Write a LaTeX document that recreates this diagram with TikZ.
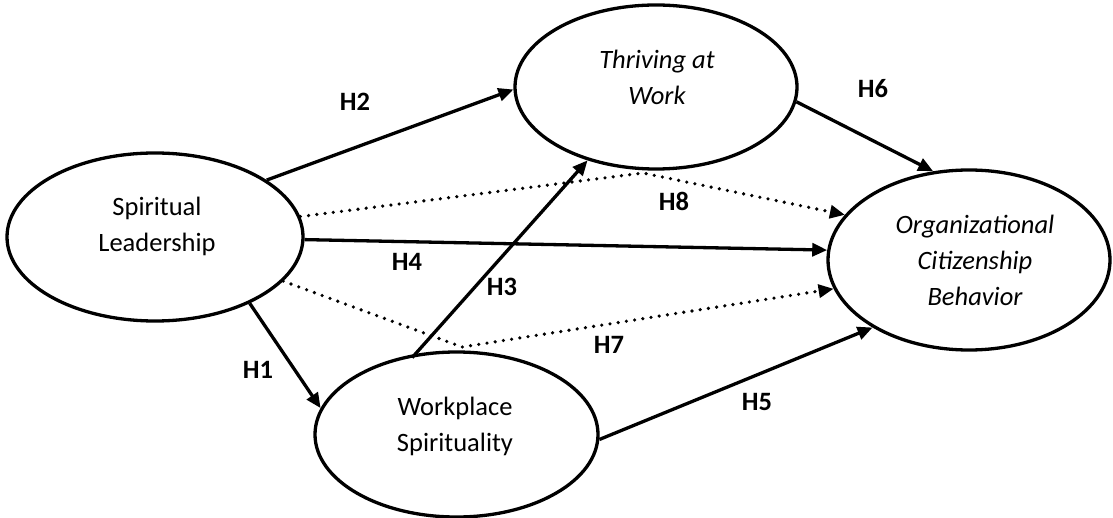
\documentclass[tikz,border=0pt]{standalone}
\usepackage{fontspec}
\setmainfont{Carlito}
\usetikzlibrary{shapes.geometric,arrows.meta}
\begin{document}
\begin{tikzpicture}[x=1pt,y=-1pt,
  construct/.style={ellipse, draw, line width=3.3pt, inner sep=0pt},
  ctext/.style={align=center, font=\fontsize{26.5}{36}\selectfont, inner sep=0pt},
  hlabel/.style={font=\fontsize{26.5}{32}\selectfont\bfseries, inner sep=0pt},
  link/.style={line width=3.3pt, -{Triangle[length=15pt,width=13pt]}},
  dotlink/.style={link, line width=3.6pt, line cap=round, dash pattern=on 0pt off 8.3pt}]
\useasboundingbox (0,0) rectangle (1113,518);

% constructs
\node[construct, minimum width=296pt, minimum height=168pt] (sl) at (155,237) {};
\node[construct, minimum width=282pt, minimum height=164pt] (thr) at (656,87) {};
\node[construct, minimum width=283pt, minimum height=165pt] (ws) at (456.5,434.5) {};
\node[construct, minimum width=282pt, minimum height=180pt] (ocb) at (969,260) {};

% construct texts
\node[ctext] (slT) at (157,226) {Spiritual\\Leadership};
\node[ctext, font=\fontsize{26.5}{36}\selectfont\itshape] (thrT) at (657,77) {Thriving at\\Work};
\node[ctext] (wsT) at (455,426) {Workplace\\Spirituality};
\node[ctext, font=\fontsize{26.5}{36}\selectfont\itshape] (ocbT) at (975,260) {Organizational\\Citizenship\\Behavior};

% bend points of dotted paths
\coordinate (k8) at (643,173);
\coordinate (k7) at (462,347);

% connectors
\draw[link] (sl.27.2) -- (thr.181);
\draw[link] (thr.-6) -- (ocb.112.2);
\draw[dotlink] (sl.8.6) -- (k8) -- (ocb.160.3);
\draw[link] (sl.-1.5) -- (ocb.176);
\draw[dotlink] (sl.-19.5) -- (k7) -- (ocb.-168.4);
\draw[link] (sl.-35.4) -- (ws.169);
\draw[link, shorten <=-5pt] (ws.117.2) -- (thr.227);
\draw[link] (ws.-2.2) -- (ocb.215);

% hypothesis labels
\node[hlabel] (h1) at (258,370) {H1};
\node[hlabel] (h2) at (355,102) {H2};
\node[hlabel] (h3) at (502,287) {H3};
\node[hlabel] (h4) at (407,262) {H4};
\node[hlabel] (h5) at (757,402) {H5};
\node[hlabel] (h6) at (873,89) {H6};
\node[hlabel] (h7) at (609,345) {H7};
\node[hlabel] (h8) at (674,201) {H8};
\end{tikzpicture}
\end{document}
